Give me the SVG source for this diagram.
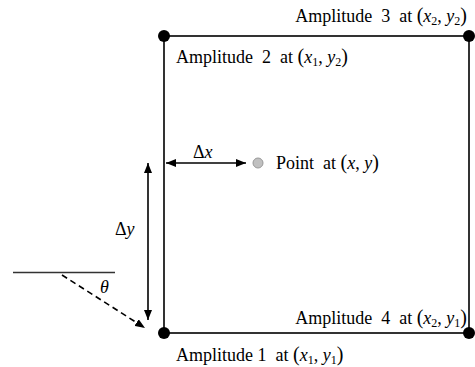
<svg xmlns="http://www.w3.org/2000/svg" width="475" height="367" viewBox="0 0 475 367">
<defs>
<marker id="ah" viewBox="0 0 10 10" refX="10" refY="5" markerWidth="10" markerHeight="8" markerUnits="userSpaceOnUse" orient="auto-start-reverse" preserveAspectRatio="none">
<path d="M0,0 L10,5 L0,10 z" fill="#000"/>
</marker>
<style>
text{font-family:"Liberation Serif","Times New Roman",serif;font-size:18px;fill:#000;white-space:pre}
.i{font-style:italic}
.s{font-size:12px}
.p{font-size:20px}
.ln{stroke:#000;stroke-width:1.6;fill:none}
.dot{fill:#000}
</style>
</defs>
<rect width="475" height="367" fill="#fff"/>
<g id="frame">
<rect x="164" y="36" width="305" height="297" class="ln"/>
</g>
<g id="amp1">
<circle cx="164" cy="333" r="6" class="dot"/>
<text x="176" y="361" xml:space="preserve">Amplitude 1  at <tspan class="p">(</tspan><tspan class="i">x</tspan><tspan class="s" dy="3">1</tspan><tspan dy="-3">, </tspan><tspan class="i">y</tspan><tspan class="s" dy="3">1</tspan><tspan class="p" dy="-3">)</tspan></text>
</g>
<g id="amp2">
<circle cx="164" cy="36" r="6" class="dot"/>
<text x="176" y="62.5" xml:space="preserve">Amplitude  2  at <tspan class="p">(</tspan><tspan class="i">x</tspan><tspan class="s" dy="3">1</tspan><tspan dy="-3">, </tspan><tspan class="i">y</tspan><tspan class="s" dy="3">2</tspan><tspan class="p" dy="-3">)</tspan></text>
</g>
<g id="amp3">
<circle cx="469" cy="36" r="6" class="dot"/>
<text x="467" y="22" text-anchor="end" xml:space="preserve">Amplitude  3  at <tspan class="p">(</tspan><tspan class="i">x</tspan><tspan class="s" dy="3">2</tspan><tspan dy="-3">, </tspan><tspan class="i">y</tspan><tspan class="s" dy="3">2</tspan><tspan class="p" dy="-3">)</tspan></text>
</g>
<g id="amp4">
<circle cx="469" cy="333" r="6" class="dot"/>
<text x="467" y="324" text-anchor="end" xml:space="preserve">Amplitude  4  at <tspan class="p">(</tspan><tspan class="i">x</tspan><tspan class="s" dy="3">2</tspan><tspan dy="-3">, </tspan><tspan class="i">y</tspan><tspan class="s" dy="3">1</tspan><tspan class="p" dy="-3">)</tspan></text>
</g>
<g id="point">
<circle cx="258" cy="163" r="5" fill="#c0c0c0" stroke="#999" stroke-width="1"/>
<text x="276" y="169" xml:space="preserve">Point  at <tspan class="p">(</tspan><tspan class="i">x</tspan>, <tspan class="i">y</tspan><tspan class="p">)</tspan></text>
</g>
<g id="connectors">
<line x1="166" y1="163" x2="246" y2="163" class="ln" marker-start="url(#ah)" marker-end="url(#ah)"/>
<line x1="148" y1="163" x2="148" y2="320" class="ln" marker-start="url(#ah)" marker-end="url(#ah)"/>
<line x1="13" y1="272.5" x2="115" y2="272.5" stroke="#333" stroke-width="1.6"/>
<line x1="62" y1="275" x2="145" y2="328" class="ln" stroke-dasharray="6,4" marker-end="url(#ah)"/>
</g>
<g id="labels">
<text x="193" y="158">Δ<tspan class="i">x</tspan></text>
<text x="115" y="235">Δ<tspan class="i">y</tspan></text>
<text x="100" y="293" class="i">θ</text>
</g>
</svg>
